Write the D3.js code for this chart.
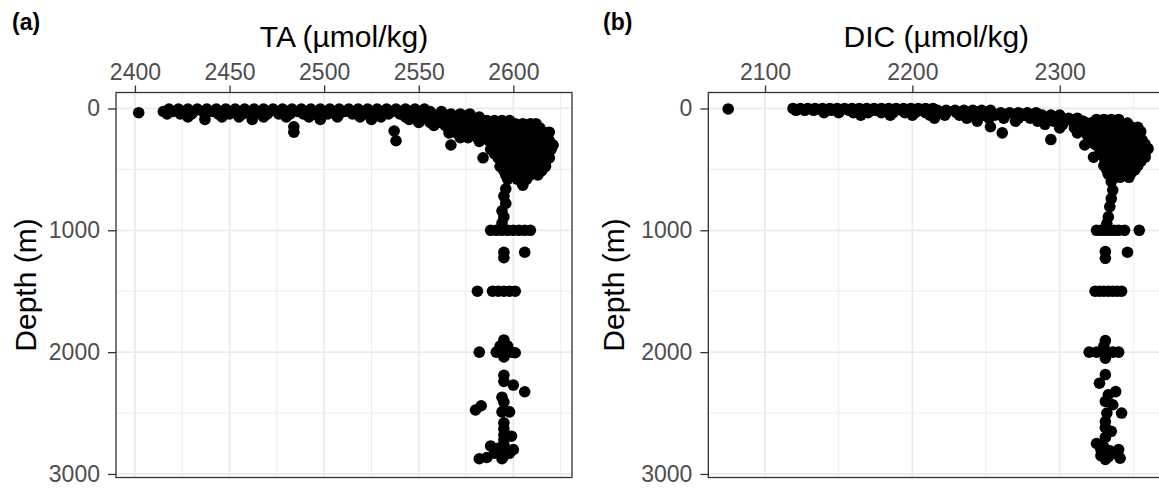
<!DOCTYPE html>
<html>
<head>
<meta charset="utf-8">
<script src="https://cdn.jsdelivr.net/npm/d3@7"></script>
<style>
  html, body { margin: 0; padding: 0; background: #fff; overflow: hidden; }
  svg text { font-family: "Liberation Sans", Arial, sans-serif; }
</style>
</head>
<body>
<svg id="fig" width="1159" height="488"></svg>
<script>
// ---- axis limits and ticks ----
const depthLimits = [-131, 3029];
const depthTicks = [0, 1000, 2000, 3000];
const depthMinor = [500, 1500, 2500];

const taLimits = [2390, 2631];
const taTicks = [2400, 2450, 2500, 2550, 2600];
const taMinor = [2425, 2475, 2525, 2575, 2625];

const dicLimits = [2061.5, 2371];
const dicTicks = [2100, 2200, 2300];
const dicMinor = [2150, 2250, 2350];

// ---- TA samples, grouped by depth (m): [depth, [TA values µmol/kg]] ----
const taSurface = [
  [35, [2402]],
  [5, [2418, 2423, 2428, 2433, 2438, 2443, 2448, 2453, 2458, 2463, 2468, 2473, 2478, 2483, 2488, 2493, 2498, 2503, 2508, 2513, 2518, 2523, 2528, 2533, 2538, 2543, 2548, 2553]],
  [25, [2415, 2420, 2426, 2431, 2436, 2441, 2446, 2451, 2456, 2461, 2466, 2471, 2476, 2481, 2486, 2491, 2496, 2501, 2506, 2511, 2516, 2521, 2526, 2531, 2536, 2541, 2546, 2551, 2556, 2562]],
  [45, [2417, 2424, 2430, 2437, 2444, 2450, 2457, 2463, 2470, 2476, 2482, 2489, 2495, 2502, 2508, 2515, 2521, 2528, 2534, 2540, 2546, 2552, 2557, 2562, 2567, 2572, 2577]],
  [70, [2428, 2446, 2455, 2468, 2480, 2492, 2507, 2519, 2530, 2543, 2548, 2553, 2560, 2566, 2572, 2577, 2582]],
  [90, [2437, 2462, 2498, 2525, 2545, 2549, 2555, 2558, 2565, 2571, 2576, 2581]],
  [115, [2550, 2556, 2562, 2567, 2572, 2577, 2582]],
  [140, [2558, 2564, 2569, 2574, 2579]],
  [150, [2484]],
  [170, [2566, 2571, 2576, 2581]],
  [185, [2537]],
  [195, [2484]],
  [200, [2566, 2570, 2574, 2578, 2582]],
  [240, [2572, 2576, 2581]],
  [265, [2538]],
  [270, [2582]],
  [300, [2567]]
];

const taCluster = [
  [100, [2586, 2590, 2594, 2598]],
  [125, [2584, 2589, 2593, 2597, 2601, 2605, 2609, 2612]],
  [160, [2586, 2590, 2594, 2598, 2602, 2606, 2610, 2614]],
  [195, [2584, 2588, 2592, 2596, 2600, 2604, 2608, 2612, 2616, 2619]],
  [230, [2586, 2590, 2594, 2598, 2602, 2606, 2610, 2614, 2618]],
  [265, [2587, 2591, 2595, 2599, 2603, 2607, 2611, 2615, 2619]],
  [300, [2589, 2593, 2597, 2601, 2605, 2609, 2613, 2617, 2621]],
  [335, [2588, 2592, 2596, 2600, 2604, 2608, 2612, 2616, 2620]],
  [370, [2590, 2594, 2598, 2602, 2606, 2610, 2614, 2618]],
  [405, [2584, 2592, 2596, 2600, 2604, 2608, 2612, 2616, 2619]],
  [440, [2594, 2598, 2602, 2606, 2610, 2614, 2617]],
  [475, [2593, 2597, 2601, 2605, 2609, 2613, 2617]],
  [510, [2595, 2599, 2603, 2607, 2611, 2615]],
  [545, [2596, 2600, 2604, 2609, 2613]],
  [580, [2597, 2602, 2607]],
  [630, [2605]]
];

const taDeep = [
  [660, [2596]], [720, [2595]], [780, [2596]], [840, [2594]], [890, [2595]], [940, [2594]],
  [1000, [2588, 2591, 2594, 2597, 2600, 2603, 2606, 2609]],
  [1180, [2595, 2606]], [1225, [2595]],
  [1500, [2581, 2589, 2592, 2595, 2598, 2601]],
  [1900, [2595]], [1950, [2593, 2597]], [1990, [2595]],
  [2000, [2582, 2591, 2599]], [2005, [2601]], [2040, [2595]],
  [2190, [2595]], [2240, [2595]], [2270, [2600]], [2325, [2606]],
  [2370, [2594]], [2410, [2595]], [2440, [2583]], [2475, [2580]],
  [2490, [2594, 2598]],
  [2580, [2595]], [2630, [2595]], [2680, [2595]], [2690, [2599]], [2720, [2595]],
  [2760, [2595]], [2770, [2588]], [2790, [2592]], [2800, [2600]],
  [2830, [2590, 2598]], [2850, [2595]], [2865, [2586]], [2875, [2582, 2594]]
];

// ---- DIC samples, grouped by depth (m): [depth, [DIC values µmol/kg]] ----
const dicSurface = [
  [4, [2075]],
  [0, [2119, 2124, 2129, 2134, 2139, 2144, 2149, 2154, 2159, 2164, 2169, 2174, 2179, 2184, 2189, 2194, 2199, 2204, 2209, 2214]],
  [15, [2121, 2127, 2133, 2139, 2145, 2151, 2157, 2163, 2169, 2175, 2181, 2187, 2193, 2199, 2205, 2211, 2217, 2223, 2229, 2235, 2241, 2247, 2253]],
  [35, [2140, 2150, 2160, 2170, 2179, 2187, 2195, 2202, 2209, 2216, 2223, 2230, 2236, 2242, 2248, 2254, 2260, 2266, 2272, 2278, 2284]],
  [55, [2165, 2185, 2200, 2212, 2222, 2232, 2240, 2248, 2256, 2263, 2270, 2276, 2282, 2288, 2294, 2300]],
  [80, [2215, 2237, 2252, 2262, 2272, 2280, 2287, 2294, 2300, 2306, 2312]],
  [105, [2244, 2270, 2285, 2296, 2303, 2310, 2316]],
  [130, [2290, 2302, 2310, 2316]],
  [150, [2253]],
  [160, [2300, 2310, 2316]],
  [200, [2261, 2312, 2318]],
  [255, [2294]],
  [300, [2317]]
];

const dicCluster = [
  [90, [2325, 2330, 2335, 2340]],
  [120, [2321, 2326, 2331, 2336, 2341, 2346]],
  [155, [2319, 2324, 2329, 2334, 2339, 2344, 2349, 2353]],
  [190, [2321, 2326, 2331, 2336, 2341, 2346, 2351, 2355]],
  [225, [2319, 2324, 2329, 2334, 2339, 2344, 2349, 2354]],
  [260, [2321, 2326, 2331, 2336, 2341, 2346, 2351, 2356]],
  [295, [2324, 2329, 2334, 2339, 2344, 2349, 2354, 2358]],
  [330, [2327, 2332, 2337, 2342, 2347, 2352, 2357, 2360]],
  [365, [2328, 2333, 2338, 2343, 2348, 2353, 2358]],
  [400, [2323, 2330, 2335, 2340, 2345, 2350, 2355, 2358]],
  [435, [2331, 2336, 2341, 2346, 2351, 2355]],
  [470, [2330, 2335, 2340, 2345, 2350, 2353]],
  [505, [2332, 2337, 2342, 2347, 2351]],
  [540, [2333, 2338, 2343, 2348]],
  [565, [2336, 2341, 2347]]
];

const dicDeep = [
  [600, [2335]], [670, [2336]], [740, [2335]], [805, [2334]], [890, [2333]], [945, [2332]],
  [1000, [2325, 2328, 2331, 2334, 2337, 2340, 2344, 2354]],
  [1175, [2331]], [1180, [2346]], [1230, [2331]],
  [1500, [2324, 2327, 2330, 2333, 2336, 2339, 2342]],
  [1905, [2331]], [1950, [2330]],
  [2000, [2320, 2325, 2331, 2336, 2340]], [2050, [2331]],
  [2185, [2331]], [2255, [2327]], [2324, [2338]], [2350, [2333]],
  [2405, [2331]], [2432, [2336]], [2500, [2332, 2342]],
  [2570, [2331]], [2620, [2331]], [2650, [2335]], [2700, [2331]],
  [2750, [2325]], [2780, [2330]], [2800, [2328, 2340]], [2810, [2334]],
  [2830, [2338]], [2850, [2328]], [2860, [2333]], [2870, [2341]], [2880, [2331]]
];

// ---- layout ----
const panelTop = 92.5, panelBottom = 477.5, panelW = 456;
const panels = [
  { tag: "(a)", title: "TA (µmol/kg)", left: 116, limits: taLimits, ticks: taTicks, minor: taMinor,
    groups: [taSurface, taCluster, taDeep], tagX: 12, yTitleX: 35.5 },
  { tag: "(b)", title: "DIC (µmol/kg)", left: 708.3, limits: dicLimits, ticks: dicTicks, minor: dicMinor,
    groups: [dicSurface, dicCluster, dicDeep], tagX: 603, yTitleX: 623.5 }
];

const svg = d3.select("#fig");
svg.append("rect").attr("width", 1159).attr("height", 488).attr("fill", "#fff");

const y = d3.scaleLinear().domain(depthLimits).range([panelTop, panelBottom]);

panels.forEach((p, i) => {
  const x = d3.scaleLinear().domain(p.limits).range([p.left, p.left + panelW]);
  const g = svg.append("g");

  const clipId = "clip" + i;
  svg.append("clipPath").attr("id", clipId)
    .append("rect").attr("x", p.left).attr("y", panelTop)
    .attr("width", panelW).attr("height", panelBottom - panelTop);

  const grid = g.append("g").attr("clip-path", `url(#${clipId})`);
  // minor grid
  grid.selectAll(".vmin").data(p.minor).join("line")
    .attr("x1", d => x(d)).attr("x2", d => x(d))
    .attr("y1", panelTop).attr("y2", panelBottom)
    .attr("stroke", "#EBEBEB").attr("stroke-width", 0.9);
  grid.selectAll(".hmin").data(depthMinor).join("line")
    .attr("y1", d => y(d)).attr("y2", d => y(d))
    .attr("x1", p.left).attr("x2", p.left + panelW)
    .attr("stroke", "#EBEBEB").attr("stroke-width", 0.9);
  // major grid
  grid.selectAll(".vmaj").data(p.ticks).join("line")
    .attr("x1", d => x(d)).attr("x2", d => x(d))
    .attr("y1", panelTop).attr("y2", panelBottom)
    .attr("stroke", "#EBEBEB").attr("stroke-width", 1.8);
  grid.selectAll(".hmaj").data(depthTicks).join("line")
    .attr("y1", d => y(d)).attr("y2", d => y(d))
    .attr("x1", p.left).attr("x2", p.left + panelW)
    .attr("stroke", "#EBEBEB").attr("stroke-width", 1.8);

  // points
  const pts = p.groups.flatMap(grp => grp.flatMap(([depth, vals]) => vals.map(v => ({ v, depth }))));
  grid.selectAll("circle").data(pts).join("circle")
    .attr("cx", d => x(d.v)).attr("cy", d => y(d.depth))
    .attr("r", 5.8).attr("fill", "#000");

  // panel border
  g.append("rect").attr("x", p.left).attr("y", panelTop)
    .attr("width", panelW).attr("height", panelBottom - panelTop)
    .attr("fill", "none").attr("stroke", "#333333").attr("stroke-width", 1.3);

  // top axis
  const xAxis = d3.axisTop(x).tickValues(p.ticks).tickSize(7).tickPadding(6).tickFormat(d3.format("d"));
  const xa = g.append("g").attr("transform", `translate(0,${panelTop})`).call(xAxis);
  xa.select(".domain").remove();
  xa.selectAll(".tick line").attr("stroke", "#333333").attr("stroke-width", 1.3);
  xa.selectAll(".tick text").attr("fill", "#4D4D4D").attr("font-size", 23)
    .attr("font-family", "Liberation Sans, Arial, sans-serif");

  // left axis
  const yAxis = d3.axisLeft(y).tickValues(depthTicks).tickSize(8).tickPadding(8).tickFormat(d3.format("d"));
  const ya = g.append("g").attr("transform", `translate(${p.left},0)`).call(yAxis);
  ya.select(".domain").remove();
  ya.selectAll(".tick line").attr("stroke", "#333333").attr("stroke-width", 1.3);
  ya.selectAll(".tick text").attr("fill", "#4D4D4D").attr("font-size", 23)
    .attr("font-family", "Liberation Sans, Arial, sans-serif");

  // axis titles
  g.append("text").attr("x", p.left + panelW / 2).attr("y", 46.5)
    .attr("text-anchor", "middle").attr("font-size", 30).attr("fill", "#000")
    .text(p.title);
  g.append("text")
    .attr("transform", `translate(${p.yTitleX},${(panelTop + panelBottom) / 2}) rotate(-90)`)
    .attr("text-anchor", "middle").attr("font-size", 30).attr("fill", "#000")
    .text("Depth (m)");

  // panel tag
  g.append("text").attr("x", p.tagX).attr("y", 29.5)
    .attr("font-size", 23).attr("font-weight", "bold").attr("fill", "#000")
    .text(p.tag);
});
</script>
</body>
</html>
